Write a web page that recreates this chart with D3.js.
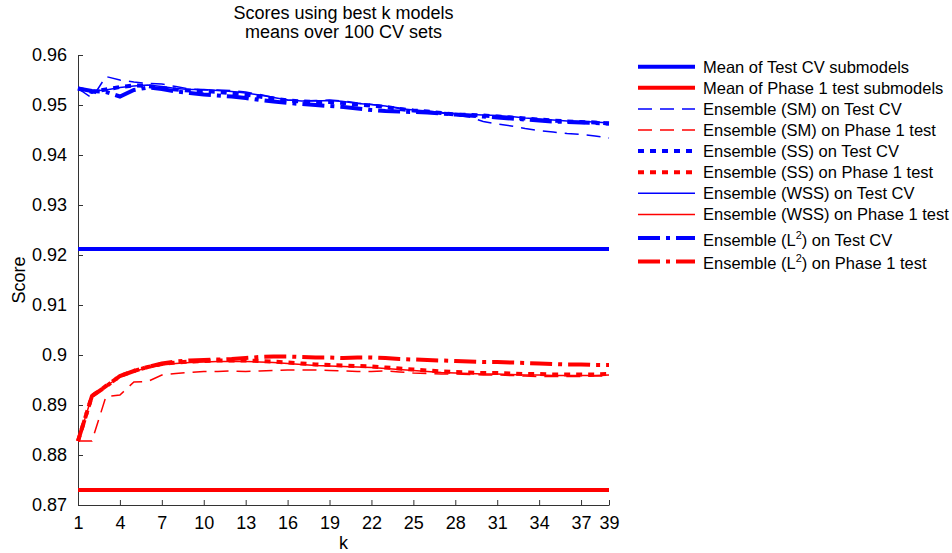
<!DOCTYPE html>
<html>
<head>
<meta charset="utf-8">
<script src="https://cdn.jsdelivr.net/npm/d3@7"></script>
<style>
  html, body { margin: 0; padding: 0; background: #fff; }
  svg { display: block; }
  text { font-family: "Liberation Sans", Arial, Helvetica, sans-serif; fill: #000; }
</style>
</head>
<body>
<svg id="chart" width="952" height="553"></svg>
<script>
// k = number of best models used in the ensemble
const kValues = d3.range(1, 40);
const xTickValues = [1, 4, 7, 10, 13, 16, 19, 22, 25, 28, 31, 34, 37, 39];
const yTickValues = [0.87, 0.88, 0.89, 0.90, 0.91, 0.92, 0.93, 0.94, 0.95, 0.96];
const yTickLabels = ["0.87", "0.88", "0.89", "0.9", "0.91", "0.92", "0.93", "0.94", "0.95", "0.96"];

// mean scores of the individual submodels (constant over k)
const meanTestCV = 0.9212;
const meanPhase1 = 0.8730;

// ensemble scores, one value per k = 1..39
const smTestCV = [0.9533, 0.9514, 0.9557, 0.9550, 0.9546, 0.9543, 0.9542, 0.9537, 0.9532, 0.9530,
  0.9530, 0.9529, 0.9526, 0.9521, 0.9515, 0.9510, 0.9508, 0.9509, 0.9510, 0.9508,
  0.9504, 0.9501, 0.9498, 0.9494, 0.9490, 0.9487, 0.9484, 0.9480, 0.9476, 0.9467,
  0.9462, 0.9458, 0.9453, 0.9449, 0.9446, 0.9443, 0.9441, 0.9438, 0.9434];
const smPhase1 = [0.8828, 0.8828, 0.8917, 0.8920, 0.8946, 0.8947, 0.8960, 0.8963, 0.8965, 0.8967,
  0.8967, 0.8968, 0.8967, 0.8968, 0.8969, 0.8970, 0.8970, 0.8970, 0.8969, 0.8968,
  0.8967, 0.8967, 0.8968, 0.8966, 0.8964, 0.8963, 0.8962, 0.8962, 0.8961, 0.8960,
  0.8960, 0.8959, 0.8958, 0.8957, 0.8957, 0.8957, 0.8957, 0.8958, 0.8958];
const ssTestCV = [0.9533, 0.9526, 0.9531, 0.9536, 0.9539, 0.9538, 0.9534, 0.9531, 0.9529, 0.9528,
  0.9526, 0.9524, 0.9521, 0.9517, 0.9513, 0.9509, 0.9507, 0.9506, 0.9506, 0.9504,
  0.9501, 0.9499, 0.9496, 0.9492, 0.9489, 0.9487, 0.9484, 0.9481, 0.9480, 0.9479,
  0.9477, 0.9475, 0.9473, 0.9471, 0.9469, 0.9467, 0.9466, 0.9465, 0.9463];
const ssPhase1 = [0.8828, 0.8918, 0.8938, 0.8958, 0.8968, 0.8976, 0.8982, 0.8985, 0.8987, 0.8988,
  0.8989, 0.8989, 0.8989, 0.8988, 0.8987, 0.8985, 0.8983, 0.8981, 0.8980, 0.8979,
  0.8978, 0.8977, 0.8975, 0.8973, 0.8971, 0.8969, 0.8967, 0.8966, 0.8965, 0.8964,
  0.8964, 0.8963, 0.8962, 0.8962, 0.8961, 0.8961, 0.8961, 0.8961, 0.8962];
const wssTestCV = [0.9533, 0.9528, 0.9530, 0.9535, 0.9538, 0.9540, 0.9537, 0.9533, 0.9531, 0.9531,
  0.9529, 0.9527, 0.9524, 0.9520, 0.9515, 0.9510, 0.9508, 0.9508, 0.9509, 0.9507,
  0.9503, 0.9501, 0.9498, 0.9493, 0.9490, 0.9488, 0.9485, 0.9482, 0.9481, 0.9480,
  0.9479, 0.9477, 0.9474, 0.9472, 0.9470, 0.9468, 0.9467, 0.9466, 0.9464];
const wssPhase1 = [0.8828, 0.8918, 0.8937, 0.8957, 0.8967, 0.8975, 0.8980, 0.8983, 0.8985, 0.8986,
  0.8987, 0.8987, 0.8987, 0.8986, 0.8985, 0.8983, 0.8981, 0.8979, 0.8978, 0.8977,
  0.8976, 0.8975, 0.8973, 0.8971, 0.8969, 0.8967, 0.8965, 0.8964, 0.8963, 0.8962,
  0.8962, 0.8961, 0.8960, 0.8960, 0.8959, 0.8959, 0.8959, 0.8959, 0.8960];
const l2TestCV = [0.9533, 0.9528, 0.9526, 0.9517, 0.9530, 0.9535, 0.9532, 0.9527, 0.9524, 0.9521,
  0.9519, 0.9517, 0.9514, 0.9510, 0.9507, 0.9504, 0.9502, 0.9500, 0.9498, 0.9496,
  0.9493, 0.9490, 0.9488, 0.9487, 0.9486, 0.9485, 0.9483, 0.9481, 0.9479, 0.9477,
  0.9475, 0.9473, 0.9471, 0.9469, 0.9467, 0.9466, 0.9465, 0.9464, 0.9463];
const l2Phase1 = [0.8828, 0.8918, 0.8937, 0.8958, 0.8968, 0.8976, 0.8983, 0.8987, 0.8989, 0.8990,
  0.8991, 0.8992, 0.8994, 0.8996, 0.8997, 0.8997, 0.8996, 0.8995, 0.8995, 0.8994,
  0.8995, 0.8995, 0.8994, 0.8992, 0.8991, 0.8990, 0.8989, 0.8988, 0.8987, 0.8986,
  0.8986, 0.8985, 0.8984, 0.8983, 0.8982, 0.8981, 0.8981, 0.8980, 0.8980];

const BLUE = "#0000ff", RED = "#ff0000";
const styles = {
  mean:  { width: 4,   dash: null },
  sm:    { width: 1.5, dash: "14,8" },
  ss:    { width: 4,   dash: "6,6" },
  wss:   { width: 1.5, dash: null },
  l2:    { width: 4,   dash: "22,6,4,6" }
};

const series = [
  { name: "Mean of Test CV submodels",       values: kValues.map(() => meanTestCV), color: BLUE, style: "mean" },
  { name: "Mean of Phase 1 test submodels",  values: kValues.map(() => meanPhase1), color: RED,  style: "mean" },
  { name: "Ensemble (SM) on Test CV",        values: smTestCV,  color: BLUE, style: "sm" },
  { name: "Ensemble (SM) on Phase 1 test",   values: smPhase1,  color: RED,  style: "sm" },
  { name: "Ensemble (SS) on Test CV",        values: ssTestCV,  color: BLUE, style: "ss" },
  { name: "Ensemble (SS) on Phase 1 test",   values: ssPhase1,  color: RED,  style: "ss" },
  { name: "Ensemble (WSS) on Test CV",       values: wssTestCV, color: BLUE, style: "wss" },
  { name: "Ensemble (WSS) on Phase 1 test",  values: wssPhase1, color: RED,  style: "wss" },
  { name: "Ensemble (L|2|) on Test CV",      values: l2TestCV,  color: BLUE, style: "l2" },
  { name: "Ensemble (L|2|) on Phase 1 test", values: l2Phase1,  color: RED,  style: "l2" }
];

const svg = d3.select("#chart");
const margin = { left: 78, right: 952 - 609, top: 55, bottom: 553 - 505 };
const plotW = 952 - margin.left - margin.right;
const plotH = 553 - margin.top - margin.bottom;

const x = d3.scaleLinear().domain([1, 39]).range([margin.left, margin.left + plotW]);
const y = d3.scaleLinear().domain([0.87, 0.96]).range([margin.top + plotH, margin.top]);

// title
svg.append("text").attr("x", x(20)).attr("y", 19).attr("text-anchor", "middle")
  .style("font-size", "18px").text("Scores using best k models");
svg.append("text").attr("x", x(20)).attr("y", 38).attr("text-anchor", "middle")
  .style("font-size", "18px").text("means over 100 CV sets");

// axes (ticks point into the plot)
const axisColor = "#333";
const yAxis = d3.axisLeft(y).tickValues(yTickValues)
  .tickFormat((d, i) => yTickLabels[i]).tickSizeInner(-5).tickSizeOuter(0).tickPadding(11);
const xAxis = d3.axisBottom(x).tickValues(xTickValues)
  .tickFormat(d3.format("d")).tickSizeInner(-5).tickSizeOuter(0).tickPadding(11);

const gy = svg.append("g").attr("transform", `translate(${margin.left},0)`).call(yAxis);
const gx = svg.append("g").attr("transform", `translate(0,${margin.top + plotH})`).call(xAxis);
[gx, gy].forEach(g => {
  g.select(".domain").attr("stroke", axisColor).attr("stroke-width", 1);
  g.selectAll(".tick line").attr("stroke", axisColor).attr("stroke-width", 1);
  g.selectAll(".tick text").style("font-size", "18px").attr("fill", "#000")
    .style("font-family", "'Liberation Sans', Arial, sans-serif");
});
gx.selectAll(".tick text").attr("dy", "0.71em");

// axis labels
svg.append("text").attr("x", x(20)).attr("y", 549).attr("text-anchor", "middle")
  .style("font-size", "18px").text("k");
svg.append("text").attr("transform", `translate(25,${y(0.915)}) rotate(-90)`)
  .attr("text-anchor", "middle").style("font-size", "18px").text("Score");

// series lines
const line = d3.line().x((d, i) => x(kValues[i])).y(d => y(d));
svg.append("g").selectAll("path").data(series).join("path")
  .attr("d", s => line(s.values))
  .attr("fill", "none")
  .attr("stroke", s => s.color)
  .attr("stroke-width", s => styles[s.style].width)
  .attr("stroke-dasharray", s => styles[s.style].dash)
  .attr("stroke-linejoin", "miter")
  .attr("stroke-linecap", "butt");

// legend
const legX0 = 638, legX1 = 695, legTextX = 703;
const rowY = [];
let yy = 66.7;
series.forEach((s, i) => {
  if (i > 0) yy += s.name.includes("|") ? 23.5 : 21.1;
  rowY.push(yy);
});
const leg = svg.append("g");
series.forEach((s, i) => {
  const ry = rowY[i];
  leg.append("line").attr("x1", legX0).attr("x2", legX1).attr("y1", ry).attr("y2", ry)
    .attr("stroke", s.color).attr("stroke-width", styles[s.style].width)
    .attr("stroke-dasharray", styles[s.style].dash);
  const t = leg.append("text").attr("x", legTextX).attr("y", ry + 6)
    .style("font-size", "16.5px");
  const parts = s.name.split("|");
  if (parts.length === 3) {
    t.attr("y", ry + 8);
    t.append("tspan").text(parts[0]);
    t.append("tspan").attr("dy", -7).style("font-size", "11px").text(parts[1]);
    t.append("tspan").attr("dy", 7).text(parts[2]);
  } else {
    t.text(s.name);
  }
});
</script>
</body>
</html>
